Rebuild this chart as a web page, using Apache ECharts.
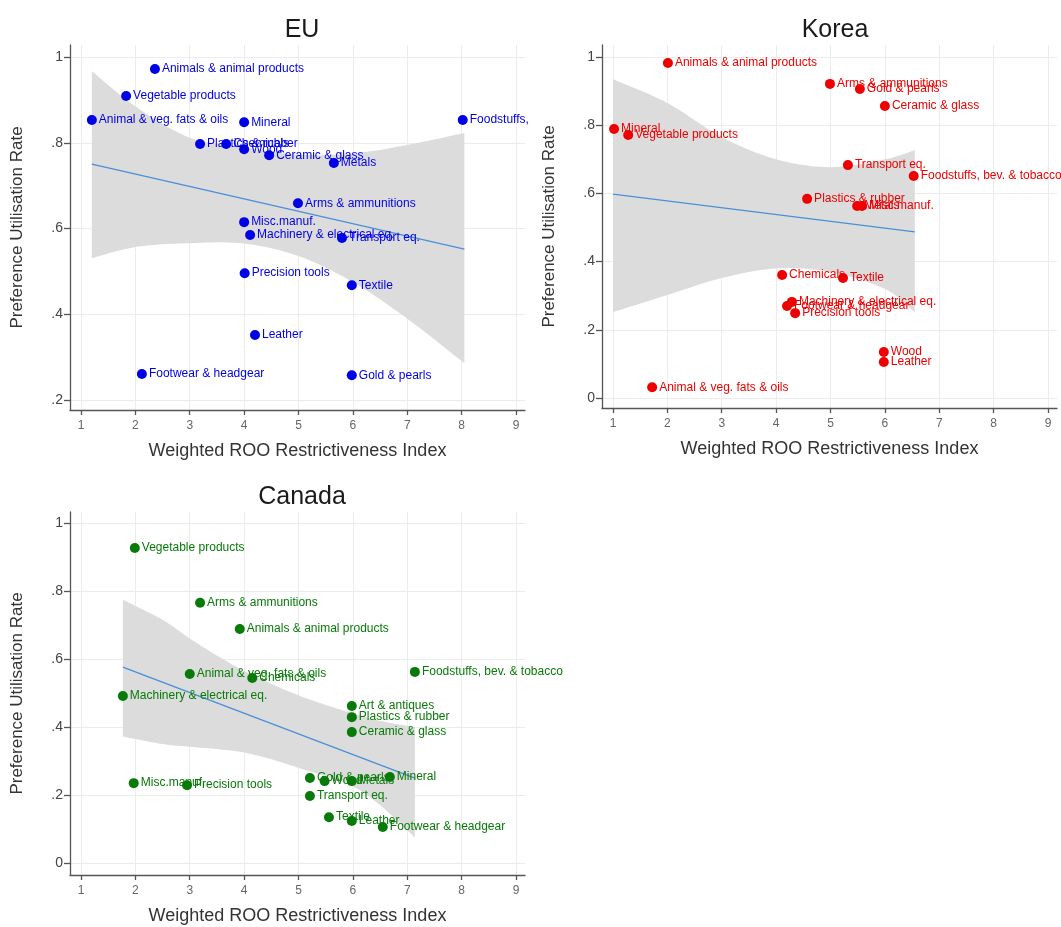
<!DOCTYPE html>
<html><head><meta charset="utf-8">
<script src="https://cdn.jsdelivr.net/npm/echarts@6/dist/echarts.min.js"></script>
<style>html,body{margin:0;padding:0;background:#fff}#c{width:1061px;height:927px}</style>
</head><body><div id="c"></div>
<script>
// ---------- tick labels ----------
const xTicks = [1, 2, 3, 4, 5, 6, 7, 8, 9];
const yTicksEU = [0.2, 0.4, 0.6, 0.8, 1];
const yTicks01 = [0, 0.2, 0.4, 0.6, 0.8, 1];
const panelTitles = ['EU', 'Korea', 'Canada'];
const xTitle = 'Weighted ROO Restrictiveness Index';
const yTitle = 'Preference Utilisation Rate';

// ---------- EU ----------
const euNames = ['Animals & animal products', 'Vegetable products', 'Animal & veg. fats & oils', 'Mineral', 'Foodstuffs,',
  'Plastics & rubber', 'Chemicals', 'Wood', 'Ceramic & glass', 'Metals', 'Arms & ammunitions', 'Misc.manuf.',
  'Machinery & electrical eq.', 'Transport eq.', 'Precision tools', 'Textile', 'Leather', 'Footwear & headgear', 'Gold & pearls'];
const euX = [2.36, 1.83, 1.20, 4.00, 8.02, 3.19, 3.67, 4.00, 4.46, 5.65, 4.99, 4.00, 4.11, 5.80, 4.01, 5.98, 4.20, 2.12, 5.98];
const euY = [0.972, 0.909, 0.853, 0.848, 0.853, 0.797, 0.797, 0.785, 0.771, 0.753, 0.659, 0.615, 0.585, 0.578, 0.496, 0.468, 0.352, 0.261, 0.258];
const euLineX = [1.2, 8.05];
const euLineY = [0.750, 0.552];
const euBandX = [1.2, 2, 3, 4, 5, 6, 7, 8.05];
const euBandLow = [0.531, 0.557, 0.566, 0.565, 0.536, 0.475, 0.390, 0.286];
const euBandHigh = [0.967, 0.885, 0.812, 0.790, 0.772, 0.775, 0.795, 0.823];

// ---------- Korea ----------
const krNames = ['Animals & animal products', 'Arms & ammunitions', 'Gold & pearls', 'Ceramic & glass', 'Mineral',
  'Vegetable products', 'Transport eq.', 'Foodstuffs, bev. & tobacco', 'Plastics & rubber', 'Metals', 'Misc.manuf.',
  'Chemicals', 'Textile', 'Machinery & electrical eq.', 'Footwear & headgear', 'Precision tools', 'Wood', 'Leather',
  'Animal & veg. fats & oils'];
const krX = [2.01, 4.99, 5.54, 6.00, 1.02, 1.28, 5.32, 6.53, 4.57, 5.49, 5.58, 4.11, 5.23, 4.29, 4.20, 4.35, 5.98, 5.98, 1.72];
const krY = [0.982, 0.921, 0.906, 0.856, 0.789, 0.771, 0.683, 0.651, 0.584, 0.563, 0.563, 0.361, 0.352, 0.282, 0.270, 0.249, 0.135, 0.106, 0.032];
const krLineX = [1.0, 6.55];
const krLineY = [0.598, 0.487];
const krBandX = [1, 2, 3, 4, 5, 6, 6.55];
const krBandLow = [0.252, 0.302, 0.352, 0.380, 0.370, 0.320, 0.252];
const krBandHigh = [0.935, 0.865, 0.765, 0.700, 0.677, 0.700, 0.727];

// ---------- Canada ----------
const caNames = ['Vegetable products', 'Arms & ammunitions', 'Animals & animal products', 'Foodstuffs, bev. & tobacco',
  'Animal & veg. fats & oils', 'Chemicals', 'Machinery & electrical eq.', 'Art & antiques', 'Plastics & rubber',
  'Ceramic & glass', 'Mineral', 'Gold & pearls', 'Wood', 'Metals', 'Misc.manuf.', 'Precision tools', 'Transport eq.',
  'Textile', 'Leather', 'Footwear & headgear'];
const caX = [1.99, 3.19, 3.92, 7.14, 3.00, 4.15, 1.77, 5.98, 5.98, 5.98, 6.68, 5.21, 5.48, 5.98, 1.97, 2.95, 5.21, 5.56, 5.98, 6.55];
const caY = [0.926, 0.765, 0.688, 0.562, 0.556, 0.544, 0.491, 0.462, 0.429, 0.385, 0.253, 0.250, 0.241, 0.241, 0.235, 0.229, 0.197, 0.135, 0.124, 0.106];
const caLineX = [1.77, 7.14];
const caLineY = [0.576, 0.250];
const caBandX = [1.77, 2.5, 3, 3.5, 4, 4.5, 5, 5.5, 6, 6.5, 7.14];
const caBandLow = [0.372, 0.350, 0.342, 0.335, 0.325, 0.305, 0.280, 0.255, 0.225, 0.170, 0.075];
const caBandHigh = [0.774, 0.715, 0.660, 0.610, 0.565, 0.527, 0.493, 0.465, 0.440, 0.418, 0.400];

// ---------- build ----------
const FONT = '"Liberation Sans", Arial, sans-serif';
const panels = [
  {names: euNames, x: euX, y: euY, lx: euLineX, ly: euLineY, bx: euBandX, bl: euBandLow, bh: euBandHigh,
   color: '#0000e6', grid: {left: 70, top: 45, width: 455, height: 365}, ymin: 0.177, ymax: 1.028, yt: yTicksEU, tx: 297, ty: 13},
  {names: krNames, x: krX, y: krY, lx: krLineX, ly: krLineY, bx: krBandX, bl: krBandLow, bh: krBandHigh,
   color: '#ee0000', grid: {left: 602, top: 45, width: 455, height: 363}, ymin: -0.029, ymax: 1.035, yt: yTicks01, tx: 830, ty: 13},
  {names: caNames, x: caX, y: caY, lx: caLineX, ly: caLineY, bx: caBandX, bl: caBandLow, bh: caBandHigh,
   color: '#077a07', grid: {left: 70, top: 512, width: 455, height: 363}, ymin: -0.035, ymax: 1.032, yt: yTicks01, tx: 297, ty: 480}
];

const yFmt = v => {
  if (Math.abs(v) < 1e-9) return '0';
  if (Math.abs(v - 1) < 1e-9) return '1';
  return v.toFixed(1).replace(/^0/, '');
};
const axisLineStyle = {color: '#555', width: 1.3};

// Catmull-Rom smoothing of already-projected pixel points (rendering only)
function smoothPx(pts, steps) {
  const out = [];
  for (let i = 0; i < pts.length - 1; i++) {
    const p0 = pts[Math.max(0, i - 1)], p1 = pts[i], p2 = pts[i + 1], p3 = pts[Math.min(pts.length - 1, i + 2)];
    for (let s = 0; s < steps; s++) {
      const t = s / steps, t2 = t * t, t3 = t2 * t;
      const f = (a, b, c, d) => 0.5 * ((2 * b) + (-a + c) * t + (2 * a - 5 * b + 4 * c - d) * t2 + (-a + 3 * b - 3 * c + d) * t3);
      out.push([f(p0[0], p1[0], p2[0], p3[0]), f(p0[1], p1[1], p2[1], p3[1])]);
    }
  }
  out.push(pts[pts.length - 1]);
  return out;
}

const option = {
  animation: false,
  backgroundColor: '#fff',
  title: [], grid: [], xAxis: [], yAxis: [], series: []
};

panels.forEach((p, i) => {
  option.title.push({text: panelTitles[i], left: p.tx, top: p.ty, textAlign: 'center',
    textStyle: {fontFamily: FONT, fontSize: 25, fontWeight: 'normal', color: '#1a1a1a'}});
  option.grid.push(p.grid);
  option.xAxis.push({
    type: 'value', gridIndex: i, min: 0.798, max: 9.165,
    name: xTitle, nameLocation: 'middle', nameGap: 32,
    nameTextStyle: {fontFamily: FONT, fontSize: 18, color: '#333'},
    axisLine: {show: true, onZero: false, lineStyle: axisLineStyle},
    axisTick: {show: true, length: 5, customValues: xTicks, lineStyle: axisLineStyle},
    axisLabel: {customValues: xTicks, margin: 10, fontFamily: FONT, fontSize: 12, color: '#666'},
    splitLine: {show: true, lineStyle: {color: '#ececec', width: 1}}
  });
  option.yAxis.push({
    type: 'value', gridIndex: i, min: p.ymin, max: p.ymax,
    name: yTitle, nameLocation: 'middle', nameGap: 44, nameRotate: 90,
    nameTextStyle: {fontFamily: FONT, fontSize: 17, color: '#333'},
    axisLine: {show: true, onZero: false, lineStyle: axisLineStyle},
    axisTick: {show: true, length: 6, customValues: p.yt, lineStyle: axisLineStyle},
    axisLabel: {customValues: p.yt, margin: 7, formatter: yFmt, fontFamily: FONT, fontSize: 14, color: '#444'},
    splitLine: {show: true, lineStyle: {color: '#ececec', width: 1}}
  });
  // confidence band
  option.series.push({
    type: 'custom', coordinateSystem: 'cartesian2d', xAxisIndex: i, yAxisIndex: i, silent: true, z: 1,
    data: p.bx.map((x, k) => [x, p.bl[k], p.bh[k]]),
    renderItem: (params, api) => {
      if (params.dataIndex !== 0) return;
      const up = p.bx.map((x, k) => api.coord([x, p.bh[k]]));
      const lo = p.bx.map((x, k) => api.coord([x, p.bl[k]]));
      const pts = smoothPx(up, 10).concat(smoothPx(lo, 10).reverse());
      return {type: 'polygon', shape: {points: pts}, style: {fill: '#dcdcdc', stroke: null}};
    }
  });
  option.series.push({
    type: 'line', xAxisIndex: i, yAxisIndex: i, symbol: 'none', silent: true, z: 2,
    lineStyle: {color: '#4a8fd8', width: 1.3},
    data: p.lx.map((x, k) => [x, p.ly[k]])
  });
  option.series.push({
    type: 'scatter', xAxisIndex: i, yAxisIndex: i, symbol: 'circle', symbolSize: 10, z: 3,
    itemStyle: {color: p.color, opacity: 1},
    label: {show: true, position: 'right', distance: 2, formatter: '{b}', fontFamily: FONT, fontSize: 12, color: p.color},
    labelLayout: {hideOverlap: false},
    data: p.names.map((n, k) => ({name: n, value: [p.x[k], p.y[k]]}))
  });
});

const chart = echarts.init(document.getElementById('c'), null, {renderer: 'canvas'});
chart.setOption(option);
</script>
</body></html>
